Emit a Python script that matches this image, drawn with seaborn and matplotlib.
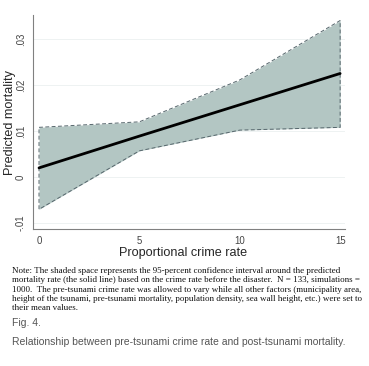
import numpy as np
import pandas as pd
import matplotlib.pyplot as plt
import seaborn as sns

# values
crime_rate = [0, 5, 10, 15]
predicted = [0.0020, 0.0089, 0.0157, 0.0225]
ci_upper = [0.0108, 0.0120, 0.0211, 0.0340]
ci_lower = [-0.0070, 0.0057, 0.0102, 0.0108]
yticks = [-0.01, 0, 0.01, 0.02, 0.03]
ytick_labels = ['-.01', '0', '.01', '.02', '.03']
xticks = [0, 5, 10, 15]

note = ("Note: The shaded space represents the 95-percent confidence interval around the predicted\n"
        "mortality rate (the solid line) based on the crime rate before the disaster.  N = 133, simulations =\n"
        "1000.  The pre-tsunami crime rate was allowed to vary while all other factors (municipality area,\n"
        "height of the tsunami, pre-tsunami mortality, population density, sea wall height, etc.) were set to\n"
        "their mean values.")

df = pd.DataFrame({'crime': crime_rate, 'pred': predicted, 'hi': ci_upper, 'lo': ci_lower})

sns.set_style("white")
plt.rcParams['font.family'] = ['Liberation Sans', 'DejaVu Sans']

fig = plt.figure(figsize=(3.69, 3.66), dpi=100)
ax = fig.add_axes([0.0894, 0.374, 0.846, 0.585])

# shaded CI with dashed outline
ax.fill_between(df['crime'], df['lo'], df['hi'], color='#b3c6c3', lw=0, zorder=1)
outline_x = np.concatenate([df['crime'], df['crime'][::-1], df['crime'][:1]])
outline_y = np.concatenate([df['hi'], df['lo'][::-1], df['hi'][:1]])
ax.plot(outline_x, outline_y, color='#56666c', lw=0.7, ls=(0, (4, 2.5)), zorder=2)

sns.lineplot(data=df, x='crime', y='pred', color='black', lw=2.0, ax=ax, zorder=3)

ax.set_xlim(-0.3, 15.25)
ax.set_ylim(-0.0113, 0.0352)
ax.set_xticks(xticks)
ax.set_xticklabels([str(x) for x in xticks])
ax.set_yticks(yticks)
ax.set_yticklabels(ytick_labels, rotation=90, va='center')
ax.yaxis.grid(True, color='#eef2f2', lw=0.7)
ax.set_axisbelow(True)
ax.tick_params(axis='both', length=3, width=0.6, color='#777777', labelsize=6.9,
               labelcolor='#444444', pad=2, direction='out')

for side in ['top', 'right']:
    ax.spines[side].set_visible(False)
for side in ['left', 'bottom']:
    ax.spines[side].set_color('#808080')
    ax.spines[side].set_linewidth(0.8)

ax.set_xlabel('Proportional crime rate', fontsize=9.1)
ax.set_ylabel('Predicted mortality', fontsize=9.1)
ax.xaxis.set_label_coords(0.48, -0.085)
ax.yaxis.set_label_coords(-0.054, 0.5)

fig.text(0.033, 0.270, note, fontsize=6.5, family='Liberation Serif', color='#111111',
         va='top', ha='left', linespacing=1.2)
fig.text(0.033, 0.118, 'Fig. 4.', fontsize=7.5, color='#555555', va='center')
fig.text(0.033, 0.066, 'Relationship between pre-tsunami crime rate and post-tsunami mortality.',
         fontsize=7.45, color='#555555', va='center')

fig.savefig('out.png', dpi=100)
